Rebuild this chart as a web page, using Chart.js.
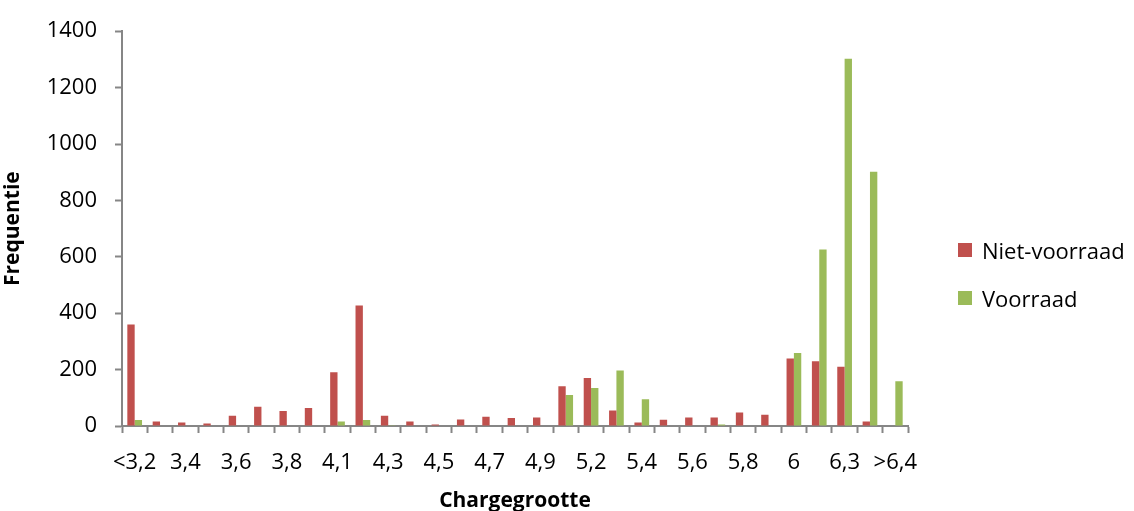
<!DOCTYPE html>
<html>
<head>
<meta charset="utf-8">
<title>Chargegrootte</title>
<script src="https://cdn.jsdelivr.net/npm/chart.js@4.4.1/dist/chart.umd.min.js"></script>
<style>
  html, body { margin: 0; padding: 0; background: #fff; }
  #wrap { position: relative; width: 1134px; height: 511px; }
  #legend { position: absolute; left: 958px; top: 236px; font-family: "Open Sans", sans-serif; font-size: 22px; color: #000; }
  #legend div { display: flex; align-items: center; height: 28px; margin-bottom: 20px; }
  #legend span.sw { display: inline-block; width: 14px; height: 14px; margin-right: 10px; }
</style>
</head>
<body>
<div id="wrap">
  <canvas id="chart" width="1134" height="511"></canvas>
  <div id="legend"></div>
</div>
<script>
// klassen (alleen de even posities krijgen een label op de as)
const categories = ['<3,2', '3,3', '3,4', '3,5', '3,6', '3,7', '3,8', '4', '4,1', '4,2',
  '4,3', '4,4', '4,5', '4,6', '4,7', '4,8', '4,9', '5', '5,2', '5,3',
  '5,4', '5,5', '5,6', '5,7', '5,8', '5,9', '6', '6,2', '6,3', '6,4', '>6,4'];

const nietVoorraad = [360, 16, 12, 9, 36, 68, 53, 64, 191, 427,
  36, 16, 5, 23, 33, 28, 30, 141, 170, 55,
  12, 22, 30, 30, 48, 40, 239, 230, 210, 16, 0];

const voorraad = [21, 0, 0, 0, 0, 0, 0, 0, 16, 21,
  3, 0, 0, 0, 0, 0, 0, 110, 135, 197,
  95, 2, 2, 5, 0, 0, 259, 626, 1302, 902, 159];

const yTicks = [0, 200, 400, 600, 800, 1000, 1200, 1400];

const RED = '#C0504D';
const GREEN = '#9BBB59';
const AXIS = '#868686';
const FONT = '"Open Sans", sans-serif';

const datasets = [
  { label: 'Niet-voorraad', data: nietVoorraad, backgroundColor: RED },
  { label: 'Voorraad', data: voorraad, backgroundColor: GREEN }
];

// legenda naast de grafiek
const legend = document.getElementById('legend');
datasets.forEach(ds => {
  const row = document.createElement('div');
  row.innerHTML = `<span class="sw" style="background:${ds.backgroundColor}"></span>${ds.label}`;
  legend.appendChild(row);
});

new Chart(document.getElementById('chart'), {
  type: 'bar',
  data: {
    labels: categories,
    datasets: datasets.map(ds => ({
      ...ds,
      categoryPercentage: 0.58,
      barPercentage: 1.0,
      borderWidth: 0
    }))
  },
  options: {
    responsive: false,
    animation: false,
    layout: { padding: { top: 28, right: 226, bottom: 0, left: 0 } },
    plugins: { legend: { display: false }, tooltip: { enabled: false } },
    scales: {
      x: {
        offset: true,
        grid: { offset: true, drawOnChartArea: false, color: AXIS, tickLength: 7, tickWidth: 2 },
        border: { color: AXIS, width: 2 },
        ticks: {
          autoSkip: false,
          maxRotation: 0,
          padding: 17,
          color: '#000',
          font: { family: FONT, size: 22 },
          callback: (v, i) => (i % 2 === 0 ? categories[i] : '')
        },
        title: {
          display: true,
          text: 'Chargegrootte',
          color: '#000',
          font: { family: FONT, size: 21, weight: 'bold' },
          padding: { top: 0, bottom: -3 }
        },
        afterFit: s => { s.height = 85; }
      },
      y: {
        min: 0,
        max: 1400,
        afterBuildTicks: s => { s.ticks = yTicks.map(v => ({ value: v })); },
        grid: { drawOnChartArea: false, color: AXIS, tickLength: 7, tickWidth: 2 },
        border: { color: AXIS, width: 2 },
        ticks: {
          padding: 18,
          color: '#000',
          font: { family: FONT, size: 22 },
          callback: v => String(v)
        },
        title: {
          display: true,
          text: 'Frequentie',
          color: '#000',
          font: { family: FONT, size: 21, weight: 'bold' },
          padding: { top: 0, bottom: 0 }
        },
        afterFit: s => { s.width = 122; }
      }
    }
  }
});
</script>
</body>
</html>
